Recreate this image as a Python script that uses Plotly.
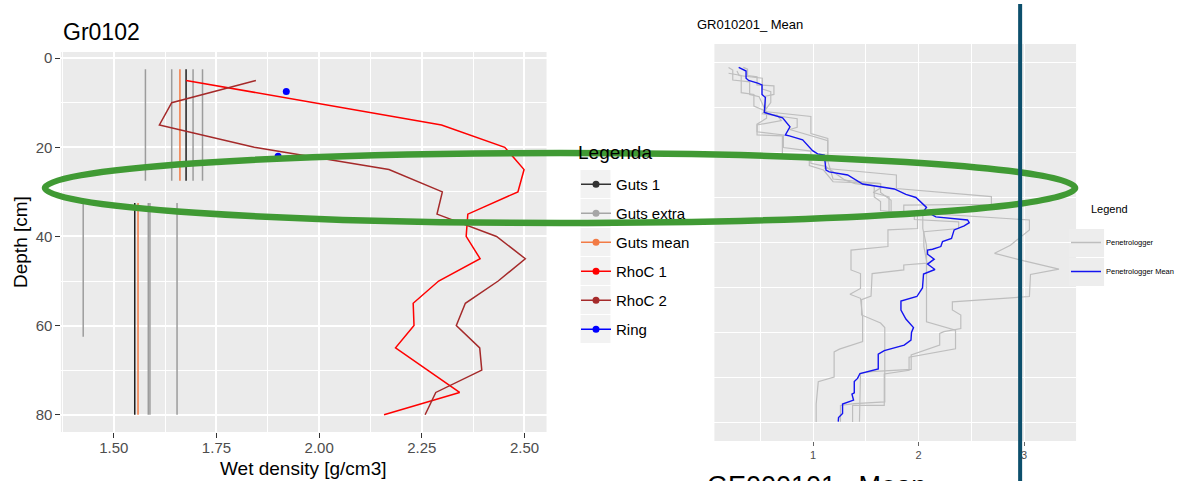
import plotly.graph_objects as go

W, H = 1179, 481
SANS = "Liberation Sans, Arial, sans-serif"
NARROW = "Liberation Sans Narrow, Arial Narrow, Liberation Sans, Arial, sans-serif"

# ---------------- Left chart data (Gr0102) ----------------
guts_top = [2.5, 32.5]
guts_bottom = [27.5, 80.0]
guts1_x = [1.676, 1.551]
guts_mean_x = [1.661, 1.559]
guts_extra_x = [1.577, 1.641, 1.693, 1.716, 1.4255, 1.584, 1.588, 1.654]
guts_extra_top = [2.5, 2.5, 2.5, 2.5, 32.5, 32.5, 32.5, 32.5]
guts_extra_bottom = [27.5, 27.5, 27.5, 27.5, 62.5, 80.0, 80.0, 80.0]

rhoc_depth = [5, 10, 15, 20, 25, 30, 35, 40, 45, 50, 55, 60, 65, 70, 75, 80]
rhoc1 = [1.676, 1.99, 2.298, 2.452, 2.499, 2.484, 2.362, 2.358, 2.392, 2.291,
         2.229, 2.231, 2.186, 2.264, 2.342, 2.158]
rhoc2 = [1.846, 1.641, 1.611, 1.842, 2.170, 2.300, 2.287, 2.432, 2.502, 2.436,
         2.356, 2.334, 2.391, 2.396, 2.284, 2.258]
ring_x = [1.92, 1.90]
ring_depth = [7.5, 22.0]

x_ticks = [1.50, 1.75, 2.00, 2.25, 2.50]
x_ticktext = ["1.50", "1.75", "2.00", "2.25", "2.50"]
y_ticks = [0, 20, 40, 60, 80]

legend1_names = ["Guts 1", "Guts extra", "Guts mean", "RhoC 1", "RhoC 2", "Ring"]

# ---------------- Right chart data (GR010201_Mean) ----------------
mean_x = [0.296, 0.366, 0.366, 0.390, 0.476, 0.517, 0.517, 0.549, 0.539, 0.634, 0.712, 0.782,
          0.738, 0.776, 0.902, 0.996, 1.044, 1.107, 1.123, 1.154, 1.328, 1.47, 1.77, 1.88,
          1.975, 2.075, 2.053, 2.164, 2.464, 2.48, 2.432, 2.337, 2.312, 2.227, 2.211, 2.132,
          2.085, 2.085, 2.148, 2.085, 2.155, 2.047, 2.037, 1.984, 1.833, 1.833, 1.88, 1.952,
          1.933, 1.928, 1.864, 1.675, 1.618, 1.618, 1.445, 1.422, 1.391, 1.391, 1.369, 1.384,
          1.28, 1.28, 1.242, 1.239]
mean_d = [1.18, 2.0, 3.6, 4.1, 4.7, 5.1, 7.2, 7.9, 11.2, 11.8, 12.4, 14.4,
          16.2, 16.4, 17.3, 19.7, 20.4, 20.7, 24.0, 24.4, 25.1, 27.1, 28.2, 29.4,
          30.1, 32.3, 33.0, 34.4, 35.1, 35.7, 36.4, 37.3, 39.2, 39.9, 41.0, 41.6,
          41.8, 42.7, 43.8, 44.9, 46.1, 47.1, 50.2, 52.1, 53.1, 55.1, 57.1, 59.0,
          60.1, 61.8, 62.9, 64.1, 64.9, 68.2, 69.2, 70.3, 71.0, 73.5, 73.8, 75.1,
          76.0, 78.1, 79.0, 79.9]

pen1_x = [0.20, 0.24, 0.24, 0.40, 0.40, 0.49, 0.54, 0.54, 0.98, 0.98, 1.14, 1.14, 1.11, 1.79,
          1.79, 2.69, 2.69, 1.86, 1.86, 3.05, 3.05, 2.87, 2.72, 3.00, 3.33, 3.06, 3.05, 2.32,
          2.32, 2.40, 2.40, 2.24, 2.20, 2.20, 1.93, 1.93, 1.55, 1.45, 1.44]
pen1_d = [1.2, 1.8, 4.0, 4.4, 7.2, 7.7, 10.3, 11.0, 12.1, 15.9, 17.0, 20.5, 23.6, 25.1,
          28.1, 29.9, 31.6, 31.8, 33.3, 35.1, 37.3, 40.7, 42.5, 44.2, 46.0, 47.2, 52.1, 53.3,
          55.1, 56.2, 59.2, 59.9, 60.3, 62.9, 65.1, 68.3, 68.8, 69.2, 79.9]
pen2_x = [0.34, 0.38, 0.38, 0.47, 0.47, 0.63, 0.63, 0.55, 0.55, 0.66, 0.70, 0.47, 0.47, 0.71,
          0.71, 0.965, 0.965, 1.10, 1.19, 1.64, 1.64, 1.74, 1.74, 1.99, 1.99, 1.71, 1.71, 1.36,
          1.36, 1.45, 1.45, 1.35, 1.45, 1.47, 1.47, 1.25, 1.20, 1.20, 1.05, 1.03, 1.03]
pen2_d = [1.2, 1.6, 3.0, 3.3, 5.1, 5.3, 7.2, 7.6, 11.5, 11.8, 13.0, 14.0, 16.2, 16.4,
          20.7, 21.8, 23.0, 24.0, 26.6, 27.0, 29.0, 30.7, 33.3, 34.0, 37.0, 37.3, 41.0, 41.8,
          46.2, 47.0, 50.3, 51.6, 52.5, 56.6, 62.1, 63.8, 64.4, 70.0, 71.0, 76.0, 80.0]
pen3_x = [0.28, 0.30, 0.52, 0.52, 0.60, 0.60, 0.52, 0.85, 0.85, 0.78, 1.14, 1.14, 1.19, 1.64,
          1.64, 1.57, 1.72, 1.72, 2.04, 2.04, 2.075, 2.075, 2.35, 2.35, 1.91, 1.91, 1.675, 1.675,
          1.375, 1.375]
pen3_d = [2.0, 3.0, 3.6, 6.0, 6.6, 9.0, 11.5, 12.6, 14.5, 15.0, 17.5, 22.0, 26.0, 27.0,
          28.0, 29.0, 30.0, 33.5, 34.0, 37.0, 40.7, 57.7, 59.6, 63.7, 65.6, 68.5, 69.3, 76.3,
          76.3, 80.0]
pen4_x = [0.20, 0.32, 0.32, 0.44, 0.44, 0.56, 0.56, 0.47, 0.47, 0.72, 0.72, 0.98, 0.98, 1.12,
          1.30, 1.40, 1.58, 1.58, 1.64, 1.64, 1.96, 1.96, 2.38, 2.38, 2.05, 2.05, 2.08, 1.86,
          1.86, 1.56, 1.55, 1.46, 1.46, 1.64, 1.68, 1.68, 1.39, 1.26, 1.26]
pen4_d = [2.5, 3.0, 6.8, 7.2, 9.8, 11.0, 12.5, 13.8, 15.5, 16.2, 19.0, 19.8, 22.5, 23.2,
          26.2, 27.0, 27.5, 30.0, 31.0, 33.0, 33.8, 35.0, 35.5, 37.0, 37.7, 41.0, 44.7, 45.1,
          46.2, 47.0, 52.0, 52.8, 56.2, 58.0, 59.0, 75.5, 75.9, 76.3, 79.9]

x2_ticks = [1, 2, 3]
y2_grid = [0, 10, 20, 30, 40, 50, 60, 70, 80]
legend2_names = ["Penetrologger", "Penetrologger Mean"]

# ---------------- colours ----------------
C_GUTS1 = "#1f1f1f"
C_EXTRA = "#9c9c9c"
C_MEAN = "#F27B45"
C_RHO1 = "#FF0000"
C_RHO2 = "#A52A2A"
C_RING = "#0000FF"
C_PEN = "#BEBEBE"
C_PENMEAN = "#1414F0"


def segments(xs, tops, bottoms):
    X, Y = [], []
    for x, t, b in zip(xs, tops, bottoms):
        X += [x, x, None]
        Y += [t, b, None]
    return X, Y


fig = go.Figure()

# left chart marks
gx, gy = segments(guts_extra_x, guts_extra_top, guts_extra_bottom)
fig.add_trace(go.Scatter(x=gx, y=gy, mode="lines", line=dict(color=C_EXTRA, width=1.5),
                         showlegend=False, xaxis="x", yaxis="y"))
mx, my = segments(guts_mean_x, guts_top, guts_bottom)
fig.add_trace(go.Scatter(x=mx, y=my, mode="lines", line=dict(color=C_MEAN, width=1.5),
                         showlegend=False, xaxis="x", yaxis="y"))
g1x, g1y = segments(guts1_x, guts_top, guts_bottom)
fig.add_trace(go.Scatter(x=g1x, y=g1y, mode="lines", line=dict(color=C_GUTS1, width=1.5),
                         showlegend=False, xaxis="x", yaxis="y"))
fig.add_trace(go.Scatter(x=rhoc1, y=rhoc_depth, mode="lines", line=dict(color=C_RHO1, width=1.5),
                         showlegend=False, xaxis="x", yaxis="y"))
fig.add_trace(go.Scatter(x=rhoc2, y=rhoc_depth, mode="lines", line=dict(color=C_RHO2, width=1.5),
                         showlegend=False, xaxis="x", yaxis="y"))
fig.add_trace(go.Scatter(x=ring_x, y=ring_depth, mode="markers", marker=dict(color=C_RING, size=7),
                         showlegend=False, xaxis="x", yaxis="y"))

# left legend entries
legend1_cols = ["#333333", "#A6A6A6", C_MEAN, C_RHO1, C_RHO2, C_RING]
for i, (name, col) in enumerate(zip(legend1_names, legend1_cols)):
    fig.add_trace(go.Scatter(x=[None], y=[None], mode="lines+markers", name=name,
                             line=dict(color=col, width=1.5), marker=dict(color=col, size=7),
                             legendgroup="g%d" % i, legend="legend", xaxis="x", yaxis="y"))

# right chart marks
for px_, pd_ in [(pen1_x, pen1_d), (pen2_x, pen2_d), (pen3_x, pen3_d), (pen4_x, pen4_d)]:
    fig.add_trace(go.Scatter(x=px_, y=pd_, mode="lines", line=dict(color=C_PEN, width=1.2),
                             showlegend=False, xaxis="x2", yaxis="y2"))
fig.add_trace(go.Scatter(x=mean_x, y=mean_d, mode="lines", line=dict(color=C_PENMEAN, width=1.4),
                         showlegend=False, xaxis="x2", yaxis="y2"))
for i, (name, col) in enumerate(zip(legend2_names, [C_PEN, C_PENMEAN])):
    fig.add_trace(go.Scatter(x=[None], y=[None], mode="lines", name=name,
                             line=dict(color=col, width=1.5), legendgroup="p%d" % i,
                             legend="legend2", xaxis="x2", yaxis="y2"))


def px2x(p):
    return p / W


def py2y(p):
    return 1 - p / H


axis_common = dict(showline=False, zeroline=False, gridcolor="white", automargin=False)

fig.update_layout(
    width=W, height=H, autosize=False,
    margin=dict(l=0, r=0, t=0, b=0),
    paper_bgcolor="white", plot_bgcolor="#EBEBEB",
    font=dict(family=SANS, color="black"),
    xaxis=dict(domain=[px2x(61), px2x(547)], range=[1.3713, 2.5537], anchor="y",
               tickmode="array", tickvals=x_ticks, ticktext=x_ticktext,
               ticks="outside", ticklen=4.5, tickwidth=1.1, tickcolor="#333333",
               ticklabelstandoff=-3,
               tickfont=dict(size=15, color="#4D4D4D", family=SANS), gridwidth=1.5,
               minor=dict(tickvals=[1.375, 1.625, 1.875, 2.125, 2.375], showgrid=True,
                          gridcolor="white", gridwidth=0.75),
               **axis_common),
    yaxis=dict(domain=[py2y(432), py2y(52)], range=[83.875, -1.375], anchor="x",
               tickmode="array", tickvals=y_ticks,
               ticks="outside", ticklen=4.5, tickwidth=1.1, tickcolor="#333333",
               tickfont=dict(size=15, color="#4D4D4D", family=SANS), gridwidth=1.5,
               minor=dict(tickvals=[10, 30, 50, 70], showgrid=True, gridcolor="white", gridwidth=0.75),
               **axis_common),
    xaxis2=dict(domain=[px2x(715), px2x(1077)], range=[0.066, 3.492], anchor="y2",
                tickmode="array", tickvals=x2_ticks, ticktext=["1", "2", "3"],
                ticks="outside", ticklen=4, tickwidth=1, tickcolor="#666666",
                tickfont=dict(size=11, color="#4D4D4D", family=NARROW), gridwidth=1.3,
                minor=dict(tickvals=[0.5, 1.5, 2.5], showgrid=True, gridcolor="white", gridwidth=0.8),
                **axis_common),
    yaxis2=dict(domain=[py2y(441), py2y(44)], range=[84.2, -4], anchor="x2",
                tickmode="array", tickvals=y2_grid, showticklabels=False, ticks="",
                gridwidth=1.1, **axis_common),
    legend=dict(x=px2x(576), xanchor="left", y=py2y(168), yanchor="top",
                bgcolor="rgba(0,0,0,0)", font=dict(size=15, family=SANS, color="black"),
                tracegroupgap=6.5, itemwidth=30, traceorder="grouped"),
    legend2=dict(x=px2x(1067), xanchor="left", y=py2y(228), yanchor="top",
                 bgcolor="rgba(0,0,0,0)", font=dict(size=7.5, family=NARROW, color="black"),
                 tracegroupgap=10, itemwidth=30, traceorder="grouped"),
)

annotations = [
    dict(text="Gr0102", x=px2x(61), y=py2y(31.5), xanchor="left", yanchor="middle",
         font=dict(size=23, family=SANS, color="black")),
    dict(text="Depth [cm]", x=px2x(20), y=py2y(242), xanchor="center", yanchor="middle",
         textangle=-90, font=dict(size=19, family=SANS, color="black")),
    dict(text="Wet density [g/cm3]", x=px2x(304), y=py2y(468), xanchor="center", yanchor="middle",
         font=dict(size=19, family=SANS, color="black")),
    dict(text="Legenda", x=px2x(576), y=py2y(152), xanchor="left", yanchor="middle",
         font=dict(size=19, family=SANS, color="black")),
    dict(text="GR010201_ Mean", x=px2x(806), y=py2y(24), xanchor="right", yanchor="middle",
         font=dict(size=13, family=NARROW, color="black")),
    dict(text="Legend", x=px2x(1090), y=py2y(209), xanchor="left", yanchor="middle",
         font=dict(size=11, family=NARROW, color="black")),
    dict(text="GE000101_ Mean", x=px2x(706), y=py2y(469), xanchor="left", yanchor="top",
         font=dict(size=27, family=NARROW, color="black")),
]
for a in annotations:
    a.update(xref="paper", yref="paper", showarrow=False)
fig.update_layout(annotations=annotations)

shapes = []
# grey key backgrounds of the two legends
for k in range(len(legend1_names)):
    cy = 184 + 29 * k
    shapes.append(dict(type="rect", xref="paper", yref="paper", layer="below",
                       x0=px2x(581), x1=px2x(611), y0=py2y(cy + 14), y1=py2y(cy - 14),
                       line=dict(width=0), fillcolor="#F2F2F2"))
for k in range(len(legend2_names)):
    cy = 243 + 29 * k
    shapes.append(dict(type="rect", xref="paper", yref="paper", layer="below",
                       x0=px2x(1070), x1=px2x(1105), y0=py2y(cy + 14), y1=py2y(cy - 14),
                       line=dict(width=0), fillcolor="#EDEDED"))
shapes += [
    dict(type="circle", xref="paper", yref="paper",
         x0=px2x(45), x1=px2x(1076), y0=py2y(223), y1=py2y(153),
         line=dict(color="#409A34", width=6.5), fillcolor="rgba(0,0,0,0)", layer="above"),
    dict(type="line", xref="paper", yref="paper",
         x0=px2x(1021), x1=px2x(1021), y0=py2y(481), y1=py2y(4),
         line=dict(color="#0C4F6C", width=4), layer="above"),
]
fig.update_layout(shapes=shapes)

fig.write_html("out.html")
